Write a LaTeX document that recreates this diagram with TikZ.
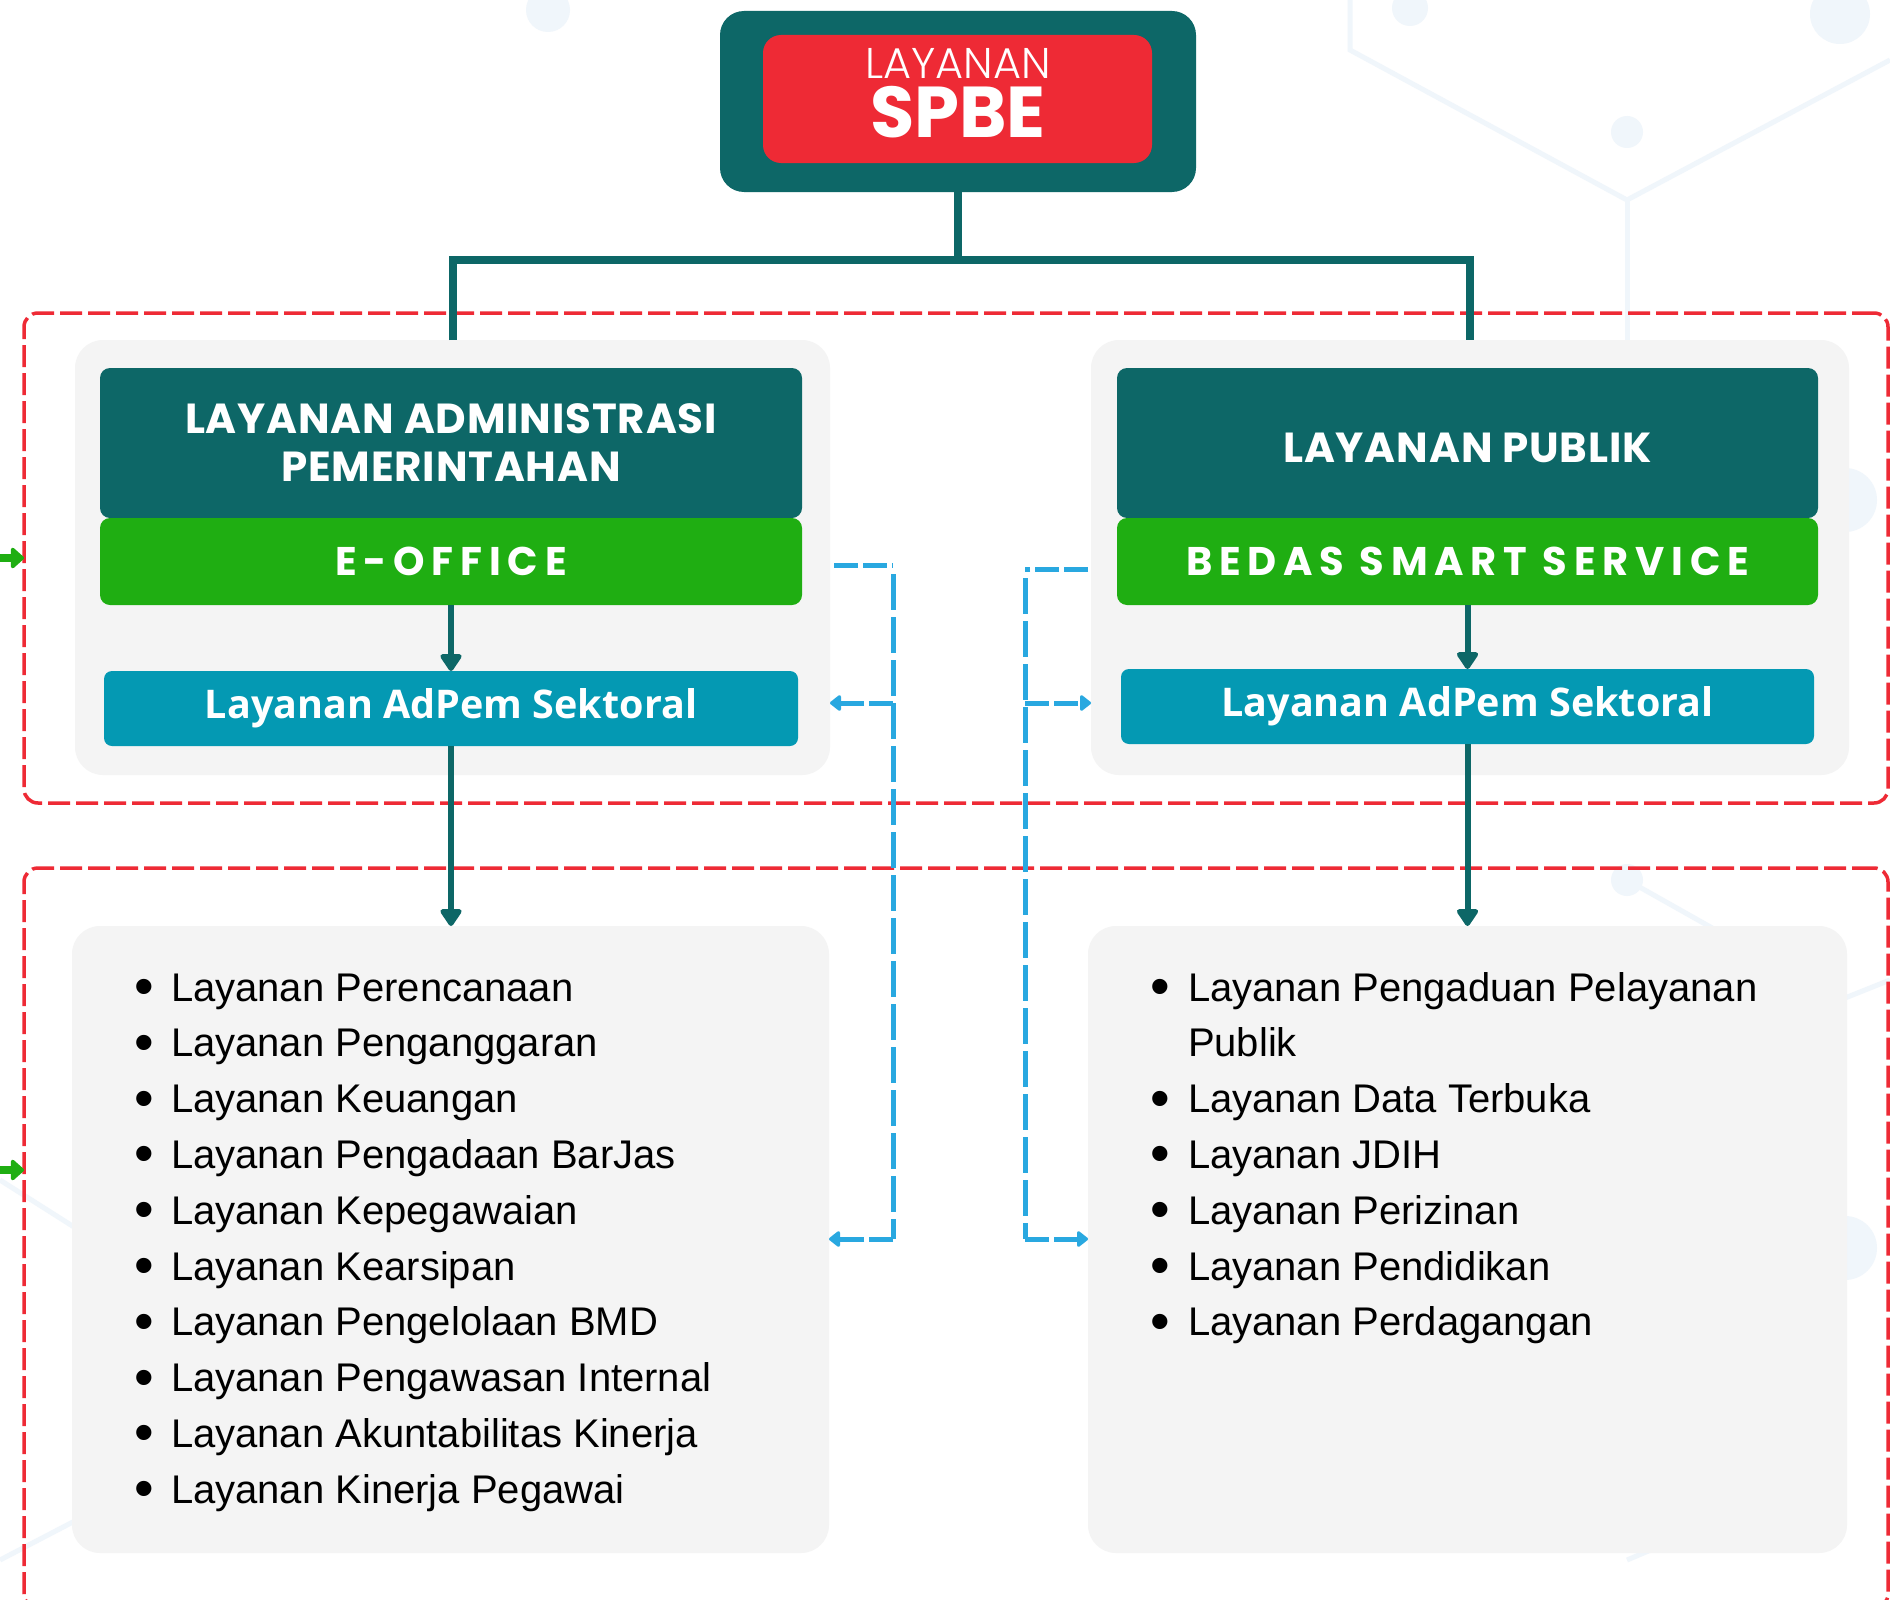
\documentclass[tikz,border=0pt]{standalone}
\usepackage{fontspec}
\setmainfont{Liberation Sans}
\newfontfamily\popfont{Poppins}
\newfontfamily\poplight{Poppins Light}
\newfontfamily\osfont{Open Sans}
\usetikzlibrary{arrows.meta}
\definecolor{dteal}{HTML}{0D6767}
\definecolor{sred}{HTML}{EE2A35}
\definecolor{sgreen}{HTML}{1FAE12}
\definecolor{steal}{HTML}{0499B3}
\definecolor{pgrey}{HTML}{F4F4F4}
\definecolor{sblue}{HTML}{29A8E0}
\definecolor{bgline}{HTML}{F0F6FB}
\newcommand{\lbul}{\raisebox{-4.5pt}{\scalebox{1.4}{\textbullet}}}
\begin{document}
\begin{tikzpicture}[x=1pt,y=-1pt,
  box/.style={rectangle, inner sep=0pt, outer sep=0pt},
  panel/.style={box, fill=pgrey, rounded corners=28pt},
  hdrbox/.style={box, fill=dteal, rounded corners=10pt, minimum height=150pt, text=white, align=center,
     font=\popfont\bfseries\fontsize{42}{48}\selectfont\addfontfeatures{LetterSpace=2}},
  greenbox/.style={box, fill=sgreen, rounded corners=10pt, minimum height=87pt, text=white,
     font=\popfont\bfseries\fontsize{40}{40}\selectfont\addfontfeatures{LetterSpace=17}},
  tealbox/.style={box, fill=steal, rounded corners=8pt, minimum height=75pt, text=white,
     font=\osfont\bfseries\fontsize{39.5}{39.5}\selectfont},
  reddash/.style={box, draw=sred, line width=3.5pt, dash pattern=on 22pt off 6pt, rounded corners=14pt},
  trunk/.style={draw=dteal, line width=8pt},
  tealarrow/.style={draw=dteal, line width=6pt, -{Triangle[width=24pt,length=19pt,round]}},
  greenarrow/.style={draw=sgreen, line width=8pt, -{Triangle[width=24pt,length=14pt,round]}},
  blueh/.style={draw=sblue, line width=5pt, dash pattern=on 24pt off 5pt},
  bluev/.style={draw=sblue, line width=5pt, dash pattern=on 36pt off 7pt},
  bluearrow/.style={blueh, -{Triangle[width=18pt,length=12pt,round]}},
  listtext/.style={anchor=base west, inner sep=0pt, outer sep=0pt, text=black,
     font=\fontsize{40}{55.8}\selectfont},
  bgcirc/.style={fill=bgline},
  bgl/.style={draw=bgline, line width=5pt}
]
\useasboundingbox (0,0) rectangle (1890,1600);
\clip (0,0) rectangle (1890,1600);
\fill[white] (0,0) rectangle (1890,1600);

% faint background network
\draw[bgl] (1350,-20) -- (1350,50) -- (1627,200) -- (1890,60);
\draw[bgl] (1627,200) -- (1627,420);
\draw[bgl] (1627,880) -- (1840,1000) -- (1890,980);
\draw[bgl] (0,1180) -- (115,1253) -- (250,1320);
\draw[bgl] (0,1560) -- (115,1500) -- (260,1430);
\draw[bgl] (1627,1560) -- (1840,1470);
\fill[bgcirc] (548,10) circle (22);
\fill[bgcirc] (1410,8) circle (18);
\fill[bgcirc] (1840,14) circle (30);
\fill[bgcirc] (1627,132) circle (16);
\fill[bgcirc] (1845,500) circle (32);
\fill[bgcirc] (1845,1248) circle (32);
\fill[bgcirc] (1627,880) circle (16);
\fill[bgcirc] (115,1253) circle (30);
\fill[bgcirc] (115,1500) circle (30);

% red dashed groups
\node[reddash, minimum width=1864pt, minimum height=490pt] (grpTop) at (956,558) {};
\node[reddash, minimum width=1864pt, minimum height=740pt] (grpBot) at (956,1238) {};

% grey panels
\node[panel, minimum width=755pt, minimum height=435pt] (TL) at (452.5,557.5) {};
\node[panel, minimum width=758pt, minimum height=435pt] (TR) at (1470,557.5) {};
\node[panel, minimum width=757pt, minimum height=627pt] (BL) at (450.5,1239.5) {};
\node[panel, minimum width=759pt, minimum height=627pt] (BR) at (1467.5,1239.5) {};

% top box
\node[box, fill=dteal, rounded corners=24pt, minimum width=476pt, minimum height=181pt] (top) at (958,101.5) {};
\node[box, fill=sred, rounded corners=18pt, minimum width=389pt, minimum height=128pt] (topin) at (957.5,99) {};
\node[anchor=base, inner sep=0pt, text=white, font=\poplight\fontsize{43}{43}\selectfont] (t1) at (958,79) {LAYANAN};
\node[anchor=base, inner sep=0pt, text=white, font=\popfont\bfseries\fontsize{72}{72}\selectfont] (t2) at (958,138) {SPBE};

% trunk connectors
\coordinate (bar) at (958,260);
\draw[trunk] (top.south) -- (top.south |- bar);
\draw[trunk] (TL.north) -- (TL.north |- bar) -- (TR.north |- bar) -- (TR.north);

% left column
\node[hdrbox, minimum width=702pt] (hdrL) at (451,443) {LAYANAN ADMINISTRASI\\PEMERINTAHAN};
\node[greenbox, minimum width=702pt] (greenL) at (451,561.5) {E-OFFICE};
\node[tealbox, minimum width=694pt] (tealL) at (451,708.5) {Layanan AdPem Sektoral};
% right column
\node[hdrbox, minimum width=701pt, text height=38pt, text depth=0pt] (hdrR) at (1467.5,443) {LAYANAN PUBLIK};
\node[greenbox, minimum width=701pt] (greenR) at (1467.5,561.5) {BEDAS SMART SERVICE};
\node[tealbox, minimum width=693pt] (tealR) at (1467.5,706.5) {Layanan AdPem Sektoral};

\draw[tealarrow] (greenL.south) -- (tealL.north);
\draw[tealarrow] (greenR.south) -- (tealR.north);
\draw[tealarrow] (tealL.south) -- (tealL.south |- BL.north);
\draw[tealarrow] (tealR.south) -- (tealR.south |- BR.north);

% lists
\node[listtext] (listL) at (134,1001) {\begin{tabular}[t]{@{}p{37pt}@{}l@{}}
\lbul & Layanan Perencanaan\\
\lbul & Layanan Penganggaran\\
\lbul & Layanan Keuangan\\
\lbul & Layanan Pengadaan BarJas\\
\lbul & Layanan Kepegawaian\\
\lbul & Layanan Kearsipan\\
\lbul & Layanan Pengelolaan BMD\\
\lbul & Layanan Pengawasan Internal\\
\lbul & Layanan Akuntabilitas Kinerja\\
\lbul & Layanan Kinerja Pegawai
\end{tabular}};
\node[listtext] (listR) at (1150,1001) {\begin{tabular}[t]{@{}p{38pt}@{}l@{}}
\lbul & Layanan Pengaduan Pelayanan\\
 & Publik\\
\lbul & Layanan Data Terbuka\\
\lbul & Layanan JDIH\\
\lbul & Layanan Perizinan\\
\lbul & Layanan Pendidikan\\
\lbul & Layanan Perdagangan
\end{tabular}};

% blue dashed links
\coordinate (bLs) at (834,565);
\coordinate (bLc) at (893,565);
\coordinate (bLm) at (893,703);
\coordinate (bLb) at (893,1239);
\draw[blueh] (bLs) -- (bLc);
\draw[bluev] ([yshift=-9pt]bLc) -- (bLb);
\draw[bluearrow] (bLm) -- (TL.east |- bLm);
\draw[bluearrow] (bLb) -- (BL.east |- bLb);

\coordinate (bRs) at (1088,569);
\coordinate (bRc) at (1025,569);
\coordinate (bRm) at (1025,703);
\coordinate (bRb) at (1025,1239);
\draw[blueh] (bRs) -- (bRc);
\draw[bluev] ([yshift=-9pt]bRc) -- (bRb);
\draw[bluearrow] (bRm) -- (TR.west |- bRm);
\draw[bluearrow] (bRb) -- (BR.west |- bRb);

% green entry arrows
\coordinate (g1) at (0,558);
\coordinate (g2) at (0,1170);
\draw[greenarrow] (g1) -- (grpTop.west |- g1);
\draw[greenarrow] (g2) -- (grpBot.west |- g2);
\end{tikzpicture}
\end{document}
